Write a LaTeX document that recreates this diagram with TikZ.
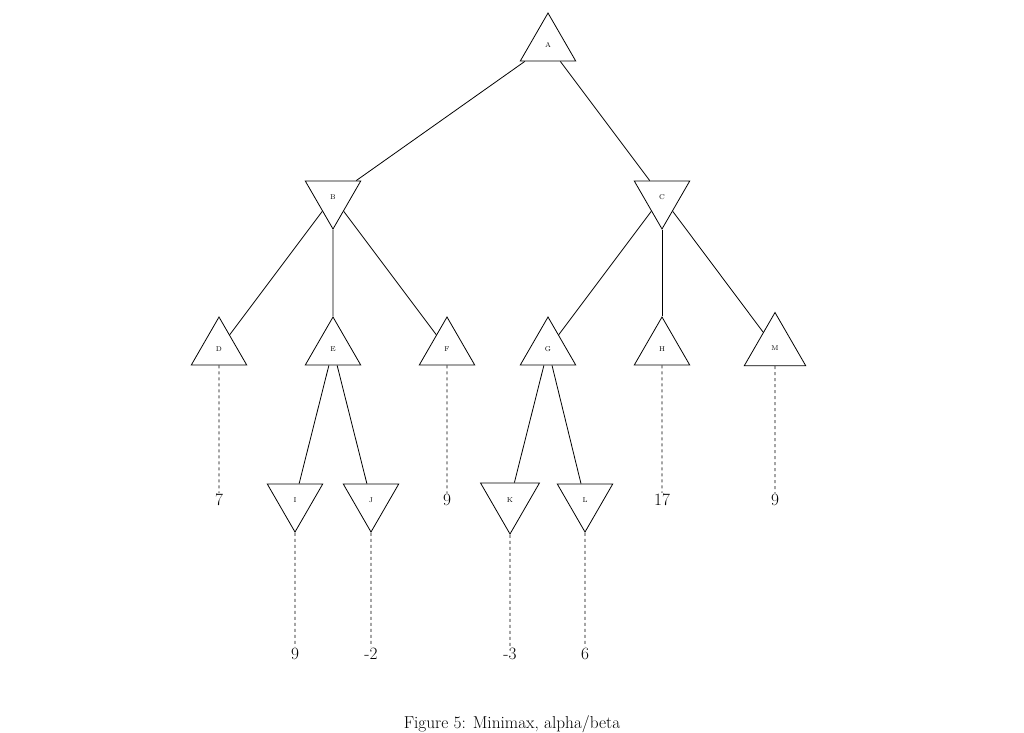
\documentclass[tikz,border=0pt]{standalone}
\usetikzlibrary{shapes.geometric}
\begin{document}
\begin{tikzpicture}[x=1pt,y=-1pt,
  maxn/.style={draw,thick,regular polygon,regular polygon sides=3,minimum size=64pt,inner sep=0pt,font=\scriptsize},
  minn/.style={maxn,shape border rotate=180},
  val/.style={font=\LARGE,inner sep=1pt},
  edge/.style={thick},
  dedge/.style={thick,dashed}]
\useasboundingbox (0,0) rectangle (1024,732);
\node[maxn] (A) at (548,45) {A};
\node[minn] (B) at (333,197) {B};
\node[minn] (C) at (662,197) {C};
\node[maxn] (D) at (219,349) {D};
\node[maxn] (E) at (333,349) {E};
\node[maxn] (F) at (447,349) {F};
\node[maxn] (G) at (548,349) {G};
\node[maxn] (H) at (662,349) {H};
\node[maxn,minimum size=71pt] (M) at (775,348) {M};
\node[minn] (I) at (295,500) {I};
\node[minn] (J) at (371,500) {J};
\node[minn,minimum size=68pt] (K) at (510,500) {K};
\node[minn] (L) at (585,500) {L};
\node[val] (v7) at (219,500) {7};
\node[val] (v9a) at (447,500) {9};
\node[val] (v17) at (662,500) {17};
\node[val] (v9b) at (775,500) {9};
\node[val] (w9) at (295,654) {9};
\node[val] (wm2) at (371,654) {-2};
\node[val] (wm3) at (510,654) {-3};
\node[val] (w6) at (585,654) {6};
\draw[edge] (A) -- (B);
\draw[edge] (A) -- (C);
\draw[edge] (B) -- (D);
\draw[edge] (B.south) -- (E.north);
\draw[edge] (B) -- (F);
\draw[edge] (C) -- (G);
\draw[edge] (C.south) -- (H.north);
\draw[edge] (C) -- (M);
\draw[edge] (E) -- (I);
\draw[edge] (E) -- (J);
\draw[edge] (G) -- (K);
\draw[edge] (G) -- (L);
\draw[dedge] (D.south) -- (v7.north);
\draw[dedge] (F.south) -- (v9a.north);
\draw[dedge] (H.south) -- (v17.north);
\draw[dedge] (M.south) -- (v9b.north);
\draw[dedge] (I.south) -- (w9.north);
\draw[dedge] (J.south) -- (wm2.north);
\draw[dedge] (K.south) -- (wm3.north);
\draw[dedge] (L.south) -- (w6.north);
\node[font=\LARGE,anchor=north] (cap) at (512,712) {Figure 5: Minimax, alpha/beta};
\end{tikzpicture}
\end{document}
